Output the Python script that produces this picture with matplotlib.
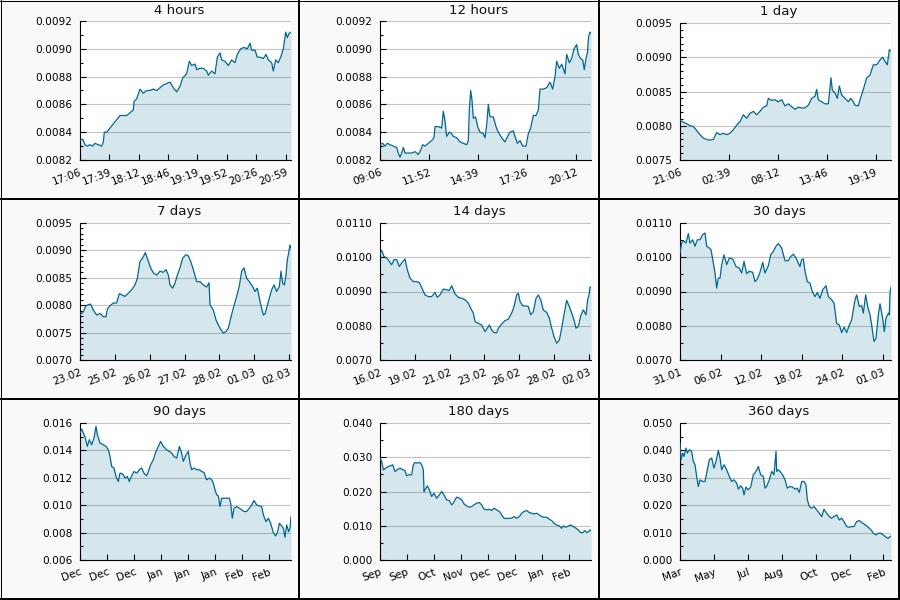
import matplotlib
matplotlib.use('Agg')
import matplotlib.pyplot as plt
from matplotlib.ticker import MultipleLocator, FormatStrFormatter, FixedLocator, FixedFormatter
from matplotlib.lines import Line2D

# ---------------- data (x = sample index, y = rate) ----------------
titles = ['4 hours', '12 hours', '1 day', '7 days', '14 days', '30 days',
          '90 days', '180 days', '360 days']

idx_4h = [0, 8, 15, 22, 30, 38, 45, 55, 65, 70, 73, 80, 90, 100, 110, 120, 130, 140, 150, 160,
          162, 170, 180, 190, 200, 210, 220, 230, 240, 250, 260, 270, 280, 290, 300, 308, 320,
          328, 335, 345, 350, 360, 370, 380, 385, 395, 405, 412, 420, 425, 435, 445, 455, 465,
          472, 482, 492, 502, 510, 515, 525, 532, 540, 550, 558, 565, 575, 580, 587, 595, 602,
          610, 617, 622, 627, 633]
val_4h = [0.00834, 0.00835, 0.00831, 0.00830, 0.00831, 0.00830, 0.00832, 0.00831, 0.00830,
          0.00833, 0.00840, 0.00840, 0.00843, 0.00846, 0.00849, 0.00852, 0.00852, 0.00852,
          0.00854, 0.00856, 0.00862, 0.00864, 0.00871, 0.00868, 0.00870, 0.00870, 0.00871,
          0.00870, 0.00872, 0.00874, 0.00875, 0.00876, 0.00872, 0.00869, 0.00873, 0.00879,
          0.00882, 0.00891, 0.00888, 0.00889, 0.00885, 0.00886, 0.00886, 0.00884, 0.00881,
          0.00884, 0.00882, 0.00894, 0.00897, 0.00892, 0.00891, 0.00888, 0.00892, 0.00890,
          0.00896, 0.00900, 0.00901, 0.00900, 0.00904, 0.00899, 0.00899, 0.00894, 0.00894,
          0.00893, 0.00896, 0.00892, 0.00890, 0.00884, 0.00892, 0.00890, 0.00894, 0.00900,
          0.00912, 0.00908, 0.00911, 0.00912]

idx_12h = [0, 8, 15, 22, 30, 40, 50, 55, 60, 65, 70, 75, 85, 95, 105, 115, 122, 128, 135, 145,
           155, 162, 165, 175, 185, 190, 195, 200, 208, 215, 220, 230, 240, 250, 260, 265, 268,
           272, 276, 280, 287, 293, 300, 310, 315, 320, 325, 330, 340, 348, 355, 365, 375, 385,
           390, 400, 405, 412, 420, 428, 438, 445, 452, 460, 468, 475, 480, 490, 500, 510, 518,
           525, 530, 538, 545, 555, 560, 568, 575, 582, 590, 595, 602, 608, 613, 618, 622, 626,
           630, 633]
val_12h = [0.00831, 0.00832, 0.00830, 0.00832, 0.00831, 0.00830, 0.00829, 0.00825, 0.00822,
           0.00825, 0.00829, 0.00825, 0.00825, 0.00825, 0.00826, 0.00824, 0.00827, 0.00831,
           0.00830, 0.00832, 0.00834, 0.00836, 0.00844, 0.00844, 0.00843, 0.00855, 0.00848,
           0.00837, 0.00840, 0.00839, 0.00837, 0.00836, 0.00833, 0.00832, 0.00831, 0.00834,
           0.00856, 0.00870, 0.00863, 0.00850, 0.00851, 0.00844, 0.00840, 0.00839, 0.00836,
           0.00845, 0.00860, 0.00851, 0.00851, 0.00844, 0.00840, 0.00836, 0.00833, 0.00838,
           0.00840, 0.00841, 0.00837, 0.00832, 0.00834, 0.00830, 0.00830, 0.00839, 0.00843,
           0.00852, 0.00852, 0.00856, 0.00871, 0.00871, 0.00872, 0.00876, 0.00871, 0.00880,
           0.00891, 0.00886, 0.00889, 0.00882, 0.00896, 0.00890, 0.00893, 0.00900, 0.00903,
           0.00896, 0.00893, 0.00892, 0.00885, 0.00893, 0.00897, 0.00909, 0.00912, 0.00911]

idx_1d = [0, 10, 20, 30, 40, 50, 60, 70, 80, 90, 100, 110, 120, 130, 140, 150, 160, 170, 180,
          190, 200, 210, 220, 230, 240, 250, 260, 265, 275, 285, 295, 305, 315, 325, 335, 345,
          355, 365, 375, 385, 395, 405, 410, 415, 425, 435, 445, 450, 453, 457, 465, 472, 478,
          485, 495, 505, 512, 520, 525, 535, 540, 550, 560, 570, 580, 590, 600, 608, 615, 622,
          628, 633]
val_1d = [0.008085, 0.00805, 0.00803, 0.00800, 0.00799, 0.00793, 0.00787, 0.00782, 0.00780,
          0.00779, 0.00780, 0.00790, 0.00787, 0.00789, 0.00787, 0.00789, 0.00794, 0.00801,
          0.00806, 0.00816, 0.00811, 0.00818, 0.00821, 0.00816, 0.00821, 0.00827, 0.00829,
          0.00840, 0.00837, 0.00838, 0.00835, 0.00838, 0.00829, 0.00832, 0.00828, 0.00824,
          0.00827, 0.00826, 0.00826, 0.00830, 0.00840, 0.00843, 0.00853, 0.00838, 0.00835,
          0.00832, 0.00832, 0.00855, 0.00870, 0.00852, 0.00848, 0.00840, 0.00858, 0.00845,
          0.00840, 0.00835, 0.00840, 0.00835, 0.00830, 0.00829, 0.00838, 0.00853, 0.00870,
          0.00874, 0.00889, 0.00889, 0.00896, 0.00900, 0.00894, 0.00889, 0.00911, 0.00909]

idx_7d = [0, 10, 18, 25, 32, 40, 50, 60, 70, 78, 82, 90, 100, 110, 118, 125, 135, 145, 155,
          165, 172, 180, 188, 196, 205, 212, 220, 230, 240, 250, 258, 265, 270, 278, 285, 292,
          300, 308, 318, 325, 332, 340, 350, 360, 370, 380, 387, 390, 400, 408, 415, 422, 430,
          438, 445, 452, 460, 470, 478, 485, 492, 500, 508, 518, 525, 532, 540, 550, 555, 560,
          568, 575, 582, 590, 598, 603, 608, 613, 618, 622, 626, 630, 633]
val_7d = [0.00782, 0.00788, 0.00799, 0.00801, 0.00802, 0.00791, 0.00782, 0.00785, 0.00779,
          0.00779, 0.00793, 0.00799, 0.00804, 0.00804, 0.00821, 0.00819, 0.00816, 0.00822,
          0.00828, 0.00837, 0.00849, 0.00880, 0.00886, 0.00896, 0.00880, 0.00868, 0.00859,
          0.00855, 0.00862, 0.00860, 0.00865, 0.00855, 0.00837, 0.00831, 0.00840, 0.00855,
          0.00868, 0.00886, 0.00892, 0.00890, 0.00880, 0.00865, 0.00843, 0.00843, 0.00837,
          0.00833, 0.00841, 0.00801, 0.00791, 0.00773, 0.00764, 0.00756, 0.00749, 0.00752,
          0.00758, 0.00776, 0.00795, 0.00816, 0.00835, 0.00862, 0.00868, 0.00849, 0.00843,
          0.00834, 0.00825, 0.00831, 0.00807, 0.00782, 0.00784, 0.00795, 0.00813, 0.00828,
          0.00837, 0.00825, 0.00834, 0.00862, 0.00840, 0.00837, 0.00855, 0.00883, 0.00895,
          0.00910, 0.00904]

idx_14d = [0, 5, 12, 20, 28, 35, 42, 50, 58, 65, 75, 82, 90, 100, 110, 118, 128, 135, 145, 155,
           165, 172, 180, 190, 200, 208, 215, 225, 235, 245, 255, 265, 272, 280, 285, 295, 305,
           315, 322, 328, 335, 342, 350, 355, 365, 375, 385, 395, 402, 410, 415, 420, 428, 438,
           445, 452, 460, 468, 475, 482, 490, 500, 508, 515, 522, 530, 538, 545, 552, 560, 568,
           575, 582, 588, 595, 603, 610, 618, 623, 627, 630, 633]
val_14d = [0.01007, 0.01020, 0.01002, 0.00998, 0.00988, 0.00978, 0.00993, 0.00993, 0.00973,
           0.00983, 0.00995, 0.00963, 0.00939, 0.00929, 0.00929, 0.00926, 0.00905, 0.00890,
           0.00885, 0.00885, 0.00897, 0.00883, 0.00890, 0.00907, 0.00905, 0.00903, 0.00917,
           0.00893, 0.00883, 0.00880, 0.00876, 0.00866, 0.00851, 0.00837, 0.00812, 0.00807,
           0.00802, 0.00783, 0.00793, 0.00802, 0.00788, 0.00780, 0.00780, 0.00793, 0.00805,
           0.00815, 0.00819, 0.00837, 0.00856, 0.00890, 0.00895, 0.00871, 0.00858, 0.00858,
           0.00856, 0.00832, 0.00841, 0.00880, 0.00890, 0.00876, 0.00846, 0.00839, 0.00822,
           0.00793, 0.00768, 0.00749, 0.00758, 0.00793, 0.00832, 0.00874, 0.00856, 0.00837,
           0.00817, 0.00793, 0.00798, 0.00832, 0.00846, 0.00832, 0.00876, 0.00890, 0.00913,
           0.00913]

idx_30d = [0, 5, 10, 18, 25, 30, 38, 45, 52, 60, 68, 75, 80, 88, 93, 100, 105, 110, 115, 120,
           125, 132, 140, 148, 158, 168, 178, 185, 192, 200, 208, 218, 225, 232, 240, 248, 255,
           265, 272, 280, 288, 295, 305, 315, 325, 332, 340, 348, 355, 360, 365, 370, 375, 382,
           390, 397, 405, 412, 420, 428, 438, 445, 455, 462, 470, 478, 485, 492, 500, 508, 515,
           525, 530, 538, 545, 550, 557, 563, 570, 575, 582, 588, 595, 600, 608, 613, 618, 625,
           628, 630, 633]
val_30d = [0.01012, 0.01041, 0.01049, 0.01041, 0.01069, 0.01041, 0.01051, 0.01032, 0.01051,
           0.01051, 0.01066, 0.01071, 0.01032, 0.01027, 0.01022, 0.00983, 0.00954, 0.00910,
           0.00939, 0.00939, 0.00978, 0.01007, 0.00978, 0.00998, 0.00995, 0.00973, 0.00968,
           0.00954, 0.00988, 0.00952, 0.00959, 0.00956, 0.00929, 0.00936, 0.00956, 0.00985,
           0.00954, 0.00975, 0.01007, 0.01017, 0.01032, 0.01040, 0.01027, 0.00990, 0.00990,
           0.01002, 0.01009, 0.00998, 0.00983, 0.00973, 0.00993, 0.00995, 0.00959, 0.00929,
           0.00924, 0.00900, 0.00885, 0.00897, 0.00880, 0.00905, 0.00917, 0.00885, 0.00876,
           0.00866, 0.00807, 0.00802, 0.00780, 0.00796, 0.00780, 0.00802, 0.00817, 0.00876,
           0.00890, 0.00856, 0.00859, 0.00837, 0.00890, 0.00856, 0.00832, 0.00802, 0.00754,
           0.00763, 0.00832, 0.00864, 0.00822, 0.00783, 0.00822, 0.00837, 0.00832, 0.00895,
           0.00913]

idx_90d = [0, 5, 10, 15, 22, 28, 35, 42, 48, 52, 60, 70, 78, 85, 90, 95, 102, 108, 115, 120,
           128, 135, 142, 148, 155, 162, 170, 178, 185, 192, 200, 205, 212, 220, 228, 235, 242,
           250, 260, 268, 275, 282, 290, 298, 305, 310, 318, 325, 330, 335, 342, 350, 358, 365,
           372, 380, 388, 395, 400, 405, 410, 415, 420, 425, 432, 440, 448, 452, 457, 462, 470,
           478, 485, 492, 500, 508, 515, 522, 530, 538, 545, 550, 558, 565, 572, 580, 587, 593,
           598, 605, 610, 615, 620, 626, 630, 633]
val_90d = [0.01527, 0.01556, 0.01527, 0.01498, 0.01429, 0.01478, 0.01441, 0.01490, 0.01576,
           0.01515, 0.01454, 0.01441, 0.01429, 0.01405, 0.01356, 0.01283, 0.01271, 0.01210,
           0.01173, 0.01234, 0.01229, 0.01198, 0.01210, 0.01173, 0.01215, 0.01246, 0.01234,
           0.01259, 0.01271, 0.01234, 0.01215, 0.01246, 0.01295, 0.01332, 0.01393, 0.01429,
           0.01466, 0.01429, 0.01405, 0.01393, 0.01380, 0.01356, 0.01344, 0.01429, 0.01380,
           0.01320, 0.01368, 0.01393, 0.01307, 0.01259, 0.01271, 0.01259, 0.01259, 0.01246,
           0.01239, 0.01185, 0.01198, 0.01185, 0.01161, 0.01112, 0.01076, 0.01068, 0.00990,
           0.01051, 0.01051, 0.01051, 0.01051, 0.01015, 0.00905, 0.00978, 0.00990, 0.00978,
           0.00966, 0.00954, 0.00954, 0.00978, 0.01002, 0.01034, 0.01002, 0.00995, 0.00990,
           0.00929, 0.00880, 0.00905, 0.00868, 0.00800, 0.00776, 0.00807, 0.00868, 0.00849,
           0.00832, 0.00766, 0.00856, 0.00807, 0.00832, 0.00917]

idx_180d = [0, 5, 10, 18, 25, 32, 38, 45, 52, 60, 68, 75, 80, 88, 95, 100, 105, 112, 120, 125,
            130, 132, 135, 142, 148, 155, 162, 170, 178, 185, 192, 200, 208, 215, 220, 225, 230,
            238, 245, 252, 260, 268, 275, 282, 290, 298, 305, 312, 320, 328, 335, 342, 350, 358,
            365, 372, 380, 388, 395, 402, 410, 418, 425, 432, 440, 448, 455, 462, 470, 478, 485,
            492, 500, 508, 515, 522, 530, 538, 545, 550, 558, 565, 572, 580, 588, 595, 602, 608,
            615, 620, 626, 630, 633]
val_180d = [0.02976, 0.02878, 0.02634, 0.02683, 0.02732, 0.02751, 0.02780, 0.02585, 0.02634,
            0.02683, 0.02634, 0.02615, 0.02460, 0.02488, 0.02488, 0.02780, 0.02849, 0.02829,
            0.02849, 0.02780, 0.02634, 0.02000, 0.02049, 0.02166, 0.02049, 0.01854, 0.01951,
            0.01805, 0.01902, 0.02000, 0.01902, 0.01756, 0.01737, 0.01610, 0.01659, 0.01756,
            0.01834, 0.01805, 0.01756, 0.01639, 0.01580, 0.01541, 0.01561, 0.01610, 0.01659,
            0.01678, 0.01610, 0.01483, 0.01463, 0.01483, 0.01444, 0.01512, 0.01463, 0.01415,
            0.01317, 0.01220, 0.01210, 0.01220, 0.01220, 0.01268, 0.01220, 0.01268, 0.01366,
            0.01415, 0.01444, 0.01385, 0.01366, 0.01346, 0.01366, 0.01317, 0.01268, 0.01249,
            0.01249, 0.01190, 0.01151, 0.01073, 0.01024, 0.00995, 0.00927, 0.00995, 0.00956,
            0.00995, 0.01024, 0.00976, 0.00927, 0.00878, 0.00800, 0.00800, 0.00859, 0.00800,
            0.00829, 0.00878, 0.00859]

idx_360d = [0, 3, 8, 12, 18, 22, 28, 35, 40, 45, 50, 55, 60, 68, 75, 82, 88, 95, 102, 108, 115,
            120, 125, 132, 140, 148, 155, 162, 170, 175, 182, 188, 192, 198, 205, 212, 220, 228,
            235, 242, 250, 255, 260, 268, 275, 282, 288, 290, 295, 300, 308, 315, 322, 330, 338,
            345, 352, 358, 365, 372, 378, 382, 388, 395, 402, 410, 418, 425, 432, 440, 448, 455,
            462, 470, 478, 485, 492, 500, 508, 515, 522, 530, 538, 545, 552, 560, 568, 575, 580,
            588, 595, 602, 610, 618, 625, 630, 633]
val_360d = [0.04268, 0.03659, 0.03902, 0.03780, 0.04085, 0.03902, 0.04024, 0.03963, 0.03598,
            0.03476, 0.03049, 0.02683, 0.02927, 0.02866, 0.02866, 0.03293, 0.03659, 0.03720,
            0.03354, 0.03598, 0.04000, 0.03720, 0.03293, 0.03476, 0.03293, 0.03049, 0.02866,
            0.02927, 0.02805, 0.02585, 0.02707, 0.02622, 0.02378, 0.02659, 0.02561, 0.02659,
            0.03110, 0.03232, 0.03415, 0.03110, 0.03049, 0.02622, 0.02683, 0.02927, 0.03232,
            0.03110, 0.03963, 0.03232, 0.03293, 0.03232, 0.03110, 0.02927, 0.02622, 0.02683,
            0.02659, 0.02585, 0.02622, 0.02463, 0.02866, 0.02866, 0.02744, 0.02195, 0.01951,
            0.01890, 0.01951, 0.01829, 0.01707, 0.01585, 0.01854, 0.01707, 0.01585, 0.01524,
            0.01585, 0.01646, 0.01463, 0.01524, 0.01402, 0.01220, 0.01195, 0.01220, 0.01220,
            0.01402, 0.01439, 0.01366, 0.01317, 0.01244, 0.01159, 0.01073, 0.00976, 0.00915,
            0.00976, 0.00976, 0.00915, 0.00829, 0.00793, 0.00854, 0.00878]

xlabels_4h = ['17:06', '17:39', '18:12', '18:46', '19:19', '19:52', '20:26', '20:59']
xlabels_12h = ['09:06', '11:52', '14:39', '17:26', '20:12']
xlabels_1d = ['21:06', '02:39', '08:12', '13:46', '19:19']
xlabels_7d = ['23.02', '25.02', '26.02', '27.02', '28.02', '01.03', '02.03']
xlabels_14d = ['16.02', '19.02', '21.02', '23.02', '26.02', '28.02', '02.03']
xlabels_30d = ['31.01', '06.02', '12.02', '18.02', '24.02', '01.03']
xlabels_90d = ['Dec', 'Dec', 'Dec', 'Jan', 'Jan', 'Jan', 'Feb', 'Feb']
xlabels_180d = ['Sep', 'Sep', 'Oct', 'Nov', 'Dec', 'Dec', 'Jan', 'Feb']
xlabels_360d = ['Mar', 'May', 'Jul', 'Aug', 'Oct', 'Dec', 'Feb']

# y axis: (low, high, major, minor, format)
yaxes = [(0.0082, 0.0092, 0.0002, 0.0001, '%.4f'),
         (0.0082, 0.0092, 0.0002, 0.0001, '%.4f'),
         (0.0075, 0.0095, 0.0005, 0.0001, '%.4f'),
         (0.0070, 0.0095, 0.0005, 0.0001, '%.4f'),
         (0.0070, 0.0110, 0.0010, 0.0005, '%.4f'),
         (0.0070, 0.0110, 0.0010, 0.0005, '%.4f'),
         (0.006, 0.016, 0.002, 0.001, '%.3f'),
         (0.000, 0.040, 0.010, 0.005, '%.3f'),
         (0.000, 0.050, 0.010, 0.005, '%.3f')]

series = [(idx_4h, val_4h, xlabels_4h), (idx_12h, val_12h, xlabels_12h),
          (idx_1d, val_1d, xlabels_1d), (idx_7d, val_7d, xlabels_7d),
          (idx_14d, val_14d, xlabels_14d), (idx_30d, val_30d, xlabels_30d),
          (idx_90d, val_90d, xlabels_90d), (idx_180d, val_180d, xlabels_180d),
          (idx_360d, val_360d, xlabels_360d)]

# ---------------- layout / style ----------------
N_SAMPLES = 633
tick_steps = [88.1, 146.8, 146.8, 104.6, 104.4, 121.8, 81.1, 81.1, 101.7]
axes_top = [21, 21, 23, 23, 23, 23, 23, 23, 23]
LINE = '#00678f'
W, H = 900, 600

fig = plt.figure(figsize=(9, 6), dpi=100, facecolor='#f9f9f9')

for k, (title, (xs, ys, xl), ya) in enumerate(zip(titles, series, yaxes)):
    r, c = divmod(k, 3)
    x0, y0 = c * 300, r * 200
    left, right = x0 + 80, x0 + 291
    top, bottom = y0 + axes_top[k], y0 + 160
    ax = fig.add_axes([left / W, 1 - bottom / H, (right - left) / W, (bottom - top) / H])
    ax.set_facecolor('white')
    lo, hi, major, minor, fmt = ya
    ax.fill_between(xs, ys, lo, color=LINE, alpha=0.16, linewidth=0, zorder=2)
    ax.plot(xs, ys, color=LINE, lw=0.9, zorder=3)
    ax.set_xlim(0, N_SAMPLES)
    ax.set_ylim(lo, hi)
    ax.yaxis.set_major_locator(MultipleLocator(major))
    ax.yaxis.set_minor_locator(MultipleLocator(minor))
    ax.yaxis.set_major_formatter(FormatStrFormatter(fmt))
    ax.xaxis.set_major_locator(FixedLocator([i * tick_steps[k] for i in range(len(xl))]))
    ax.xaxis.set_major_formatter(FixedFormatter(xl))
    ax.grid(axis='y', which='major', color='#c4c4c4', lw=0.8, zorder=1)
    ax.set_axisbelow(True)
    for s in ('top', 'right'):
        ax.spines[s].set_visible(False)
    for s in ('left', 'bottom'):
        ax.spines[s].set_linewidth(0.8)
        ax.spines[s].set_color('black')
    ax.tick_params(axis='both', which='major', direction='in', length=4.3, width=0.8,
                   colors='black', labelsize=7.6, pad=5)
    ax.tick_params(axis='y', which='minor', direction='in', length=2.4, width=0.8)
    ax.tick_params(axis='y', which='major', pad=5.5)
    for lab in ax.get_xticklabels():
        lab.set_rotation(20)
        lab.set_ha('right')
        lab.set_va('top')
        lab.set_rotation_mode('anchor')
    fig.text((x0 + 179) / W, 1 - (y0 + 11) / H, title, ha='center', va='center',
             fontsize=9.6, color='#111111')

# panel borders
def fline(xa, ya_, xb, yb, px):
    fig.add_artist(Line2D([xa / W, xb / W], [1 - ya_ / H, 1 - yb / H], color='black',
                          lw=px * 0.72, transform=fig.transFigure, antialiased=False))

fline(299, 0, 299, 600, 2)
fline(599, 0, 599, 600, 2)
fline(0, 199, 900, 199, 2)
fline(0, 399, 900, 399, 2)
fline(0.5, 0, 0.5, 600, 1)
fline(0, 0.5, 900, 0.5, 1)
fline(899, 0, 899, 600, 2)
fline(0, 599, 900, 599, 2)

fig.savefig('out.png', dpi=100, facecolor=fig.get_facecolor())
